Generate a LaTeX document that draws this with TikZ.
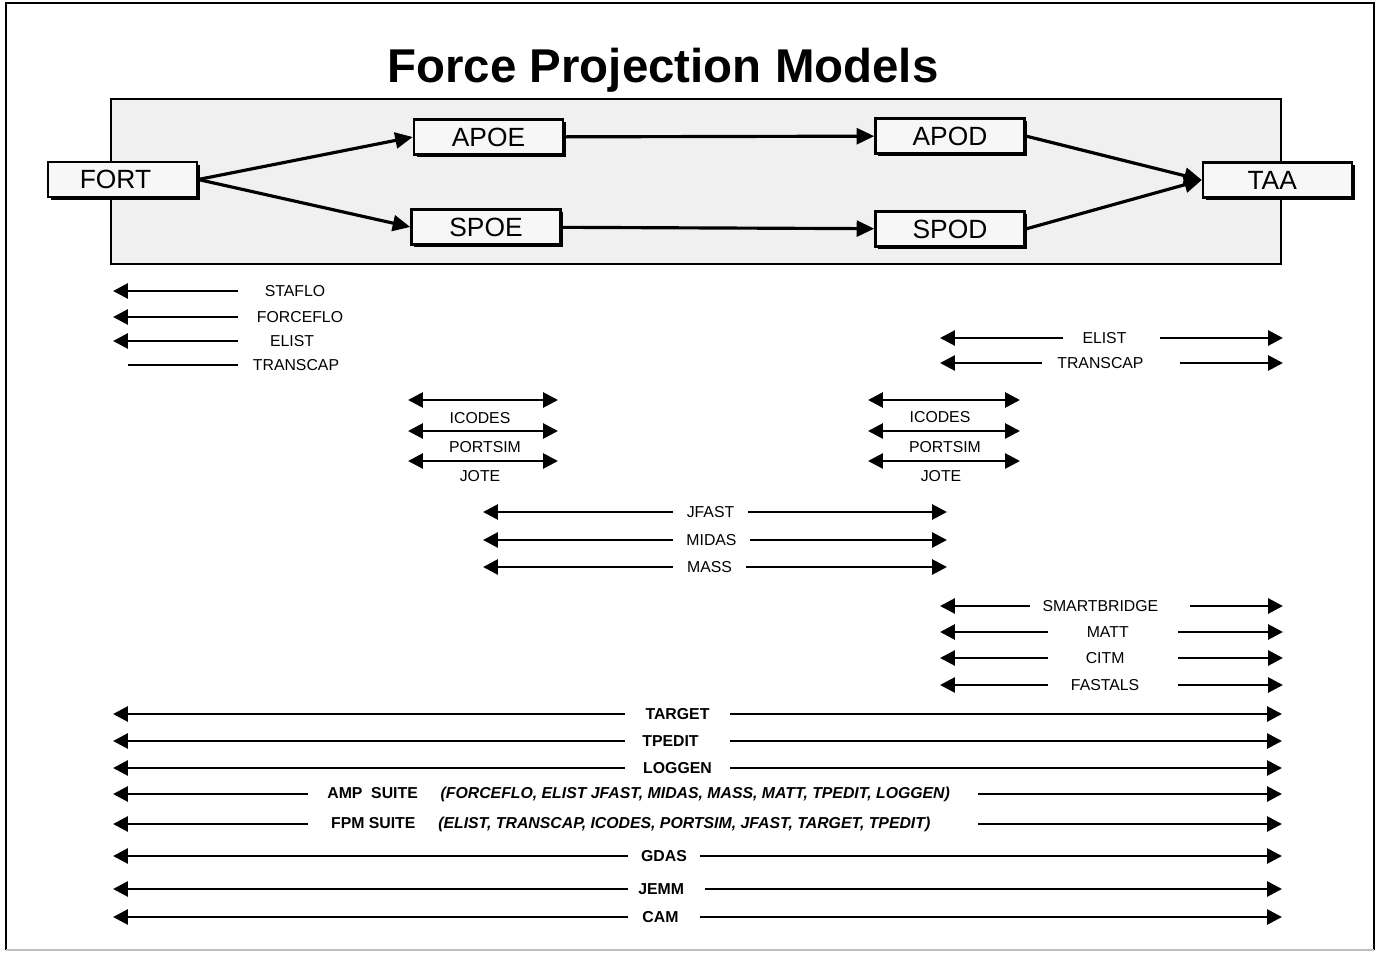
\documentclass[tikz,border=0pt]{standalone}
\usepackage{fontspec}
\setmainfont{Liberation Sans}
\usetikzlibrary{positioning, arrows.meta, shadows}

\begin{document}
\begin{tikzpicture}[x=0.02cm, y=-0.02cm,
    site/.style={draw, line width=1.4pt, fill=gray!6, minimum width=2.98cm, minimum height=0.7cm, inner sep=0pt,
      font=\fontsize{15}{16}\selectfont, drop shadow={shadow xshift=1.6pt, shadow yshift=-1.6pt, fill=black, opacity=1}},
    flow/.style={-{Triangle[length=10pt, width=9pt]}, line width=1.8pt},
    tool/.style={inner sep=0pt, font=\fontsize{9}{10}\selectfont},
    suite/.style={inner sep=0pt, font=\fontsize{9}{10}\selectfont\bfseries},
    lbar/.style={-{Triangle[length=8.5pt, width=8.5pt]}, line width=1.6pt},
    bbar/.style={{Triangle[length=8.5pt, width=8.5pt]}-{Triangle[length=8.5pt, width=8.5pt]}, line width=1.6pt},
    pbar/.style={line width=1.6pt}]
  \useasboundingbox (0,0) rectangle (1377,953);
  % frame
  \draw[line width=1.2pt] (6,950) -- (6,3) -- (1374,3) -- (1374,950);
  \draw[gray!50, line width=1pt] (6,950) -- (1374,950);

  \node[font=\fontsize{27}{30}\selectfont\bfseries] (title) at (663,70) {Force Projection Models};

  % theatre with the ports
  \node[draw, line width=1.1pt, fill=gray!12, minimum width=23.4cm, minimum height=3.3cm, inner sep=0pt] (theatre) at (696,181.5) {};
  \node[site] (fort) at (122.5,179.5) {FORT\kern8pt};
  \node[site] (apoe) at (488.5,137) {APOE};
  \node[site] (spoe) at (486,227) {SPOE};
  \node[site] (apod) at (950,136) {APOD};
  \node[site] (spod) at (950,229) {SPOD};
  \node[site] (taa) at (1277.5,180) {TAA\kern6pt};
  \draw[flow] (fort.east) -- (apoe.west);
  \draw[flow] (fort.east) -- (spoe.west);
  \draw[flow] (apoe) -- (apod);
  \draw[flow] (spoe) -- (spod);
  \draw[flow] (apod.east) -- (taa.west);
  \draw[flow] (spod.east) -- (taa.west);

  % columns where the bars end
  \coordinate (left) at (113,0);
  \coordinate (right) at (1282,0);
  \coordinate (fortcut) at (238,0);
  \coordinate (fortstub) at (128,0);
  \coordinate (podleft) at (940,0);
  \coordinate (podright) at (1283,0);
  \coordinate (midleft) at (483,0);
  \coordinate (midright) at (947,0);
  \coordinate (poeA) at (408,0);
  \coordinate (poeB) at (558,0);
  \coordinate (podA) at (868,0);
  \coordinate (podB) at (1020,0);
  \coordinate (row1) at (0,400);
  \coordinate (row2) at (0,431);
  \coordinate (row3) at (0,461);

  % fort
  \node[tool] (staflo) at (295,291) {STAFLO};
  \node[tool] (forceflo) at (300,317) {FORCEFLO};
  \node[tool] (elistA) at (292,341) {ELIST};
  \node[tool] (transcapA) at (296,365) {TRANSCAP};
  \draw[lbar] (staflo -| fortcut) -- (staflo -| left);
  \draw[lbar] (forceflo -| fortcut) -- (forceflo -| left);
  \draw[lbar] (elistA -| fortcut) -- (elistA -| left);
  \draw[pbar] (transcapA -| fortcut) -- (transcapA -| fortstub);

  \node[tool, minimum width=1.94cm] (elistB) at (1111.5,338) {ELIST\kern8pt};
  \node[tool, minimum width=2.76cm] (transcapB) at (1111,363) {TRANSCAP\kern12pt};
  \draw[lbar] (elistB.west) -- (elistB -| podleft);
  \draw[lbar] (elistB.east) -- (elistB -| podright);
  \draw[lbar] (transcapB.west) -- (transcapB -| podleft);
  \draw[lbar] (transcapB.east) -- (transcapB -| podright);

  % ports
  \node[tool] (icodesA) at (480,418) {ICODES};
  \node[tool] (portsimA) at (485,447) {PORTSIM};
  \node[tool] (joteA) at (480,476) {JOTE};
  \node[tool] (icodesB) at (940,417) {ICODES};
  \node[tool] (portsimB) at (945,447) {PORTSIM};
  \node[tool] (joteB) at (941,476) {JOTE};
  \draw[bbar] (poeA |- row1) -- (poeB |- row1);
  \draw[bbar] (poeA |- row2) -- (poeB |- row2);
  \draw[bbar] (poeA |- row3) -- (poeB |- row3);
  \draw[bbar] (podA |- row1) -- (podB |- row1);
  \draw[bbar] (podA |- row2) -- (podB |- row2);
  \draw[bbar] (podA |- row3) -- (podB |- row3);

  % lift
  \node[tool, minimum width=1.5cm] (jfast) at (710.5,512) {JFAST};
  \node[tool, minimum width=1.54cm] (midas) at (711.5,540) {MIDAS};
  \node[tool, minimum width=1.46cm] (mass) at (709.5,567) {MASS};
  \draw[lbar] (jfast.west) -- (jfast -| midleft);
  \draw[lbar] (jfast.east) -- (jfast -| midright);
  \draw[lbar] (midas.west) -- (midas -| midleft);
  \draw[lbar] (midas.east) -- (midas -| midright);
  \draw[lbar] (mass.west) -- (mass -| midleft);
  \draw[lbar] (mass.east) -- (mass -| midright);

  % onward movement
  \node[tool, minimum width=3.2cm] (smart) at (1110,606) {SMARTBRIDGE\kern11pt};
  \node[tool, minimum width=2.6cm] (matt) at (1113,632) {MATT\kern6pt};
  \node[tool, minimum width=2.6cm] (citm) at (1113,658) {CITM\kern9pt};
  \node[tool, minimum width=2.6cm] (fastals) at (1113,685) {FASTALS\kern9pt};
  \draw[lbar] (smart.west) -- (smart -| podleft);
  \draw[lbar] (smart.east) -- (smart -| podright);
  \draw[lbar] (matt.west) -- (matt -| podleft);
  \draw[lbar] (matt.east) -- (matt -| podright);
  \draw[lbar] (citm.west) -- (citm -| podleft);
  \draw[lbar] (citm.east) -- (citm -| podright);
  \draw[lbar] (fastals.west) -- (fastals -| podleft);
  \draw[lbar] (fastals.east) -- (fastals -| podright);

  % whole chain
  \node[suite, minimum width=2.1cm] (target) at (677.5,714) {TARGET};
  \node[suite, minimum width=2.1cm] (tpedit) at (677.5,741) {TPEDIT\kern8pt};
  \node[suite, minimum width=2.1cm] (loggen) at (677.5,768) {LOGGEN};
  \node[suite, minimum width=13.4cm] (amp) at (643,794)
    {AMP\ \ SUITE\hspace{13pt}\textit{(FORCEFLO, ELIST JFAST, MIDAS, MASS, MATT, TPEDIT, LOGGEN)}\kern5pt};
  \node[suite, minimum width=13.4cm] (fpm) at (643,824)
    {FPM SUITE\hspace{13pt}\textit{(ELIST, TRANSCAP, ICODES, PORTSIM, JFAST, TARGET, TPEDIT)}\kern14pt};
  \node[suite, minimum width=1.44cm] (gdas) at (664,856) {GDAS};
  \node[suite, minimum width=1.54cm] (jemm) at (666.5,889) {JEMM\kern6pt};
  \node[suite, minimum width=1.44cm] (cam) at (664,917) {CAM\kern4pt};
  \draw[lbar] (target.west) -- (target -| left);
  \draw[lbar] (target.east) -- (target -| right);
  \draw[lbar] (tpedit.west) -- (tpedit -| left);
  \draw[lbar] (tpedit.east) -- (tpedit -| right);
  \draw[lbar] (loggen.west) -- (loggen -| left);
  \draw[lbar] (loggen.east) -- (loggen -| right);
  \draw[lbar] (amp.west) -- (amp -| left);
  \draw[lbar] (amp.east) -- (amp -| right);
  \draw[lbar] (fpm.west) -- (fpm -| left);
  \draw[lbar] (fpm.east) -- (fpm -| right);
  \draw[lbar] (gdas.west) -- (gdas -| left);
  \draw[lbar] (gdas.east) -- (gdas -| right);
  \draw[lbar] (jemm.west) -- (jemm -| left);
  \draw[lbar] (jemm.east) -- (jemm -| right);
  \draw[lbar] (cam.west) -- (cam -| left);
  \draw[lbar] (cam.east) -- (cam -| right);
\end{tikzpicture}
\end{document}
